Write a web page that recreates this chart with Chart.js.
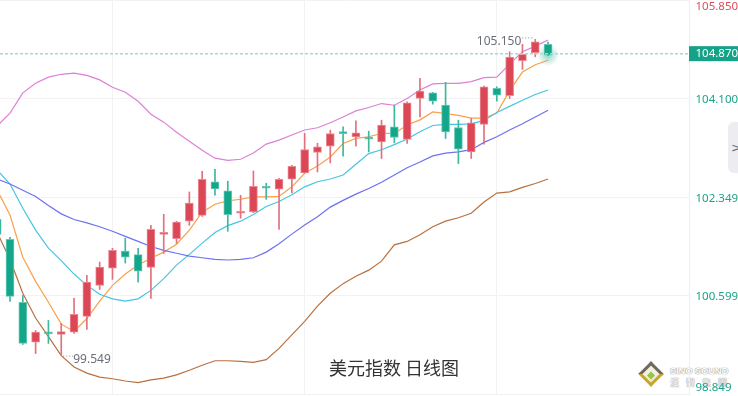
<!DOCTYPE html>
<html lang="zh">
<head>
    <meta charset="UTF-8">
    <title>美元指数 日线图</title>
    <script src="https://cdn.jsdelivr.net/npm/chart.js"></script>
    <style>
        body {
            margin: 0;
            background-color: #ffffff;
        }
        #wrap {
            position: relative;
            width: 738px;
            height: 396px;
            overflow: hidden;
        }
        #dxyChart {
            position: relative;
            z-index: 2;
        }
        .title {
            position: absolute;
            z-index: 3;
            left: 329px;
            top: 354px;
            font-family: "Noto Sans CJK SC", sans-serif;
            font-size: 18px;
            color: #333333;
            white-space: nowrap;
        }
        .side-btn {
            position: absolute;
            z-index: 3;
            left: 728px;
            top: 122px;
            width: 16px;
            height: 51px;
            border-radius: 6px 0 0 6px;
            background: #ededf1;
            color: #666a74;
            font-family: "DejaVu Sans", sans-serif;
            font-size: 13px;
            line-height: 51px;
            padding-left: 3px;
            box-sizing: border-box;
        }
        .logo {
            position: absolute;
            z-index: 1;
            left: 638px;
            top: 361px;
        }
        .logo .mark {
            position: absolute;
            left: 4px;
            top: 4px;
            width: 18px;
            height: 18px;
            transform: rotate(45deg);
            border: 3px solid #6f6a5c;
            border-bottom-color: #c9a530;
            border-right-color: #c9a530;
            background: #f4f1e4;
            box-sizing: border-box;
        }
        .logo .mark::after {
            content: "";
            position: absolute;
            left: 3px;
            top: 3px;
            width: 6px;
            height: 6px;
            border: 1px solid #ffffff;
            background: #9cc44a;
        }
        .logo .name {
            position: absolute;
            left: 32px;
            top: 4px;
            font-family: "Liberation Sans", sans-serif;
            font-weight: bold;
            font-size: 9.5px;
            letter-spacing: -0.2px;
            color: #ffffff;
            text-shadow: 0 0 1px #8a8a8a, 0 0 1px #8a8a8a;
            white-space: nowrap;
        }
        .logo .cn {
            position: absolute;
            left: 32px;
            top: 15px;
            font-family: "Noto Sans CJK TC", sans-serif;
            font-size: 9px;
            letter-spacing: 7px;
            color: #ffffff;
            text-shadow: 0 0 1px #8a8a8a, 0 0 1px #8a8a8a;
            white-space: nowrap;
        }
    </style>
</head>
<body>
    <div id="wrap">
        <div class="logo">
            <div class="mark"></div>
            <div class="name">SINO SOUND</div>
            <div class="cn">漢聲集團</div>
        </div>
        <canvas id="dxyChart" width="738" height="396"></canvas>
        <div class="title">美元指数 日线图</div>
        <div class="side-btn">&gt;</div>
    </div>

    <script>
        // daily bars, index -1 is the partly hidden one at the left edge
        const days = [-1, 0, 1, 2, 3, 4, 5, 6, 7, 8, 9, 10, 11, 12, 13, 14, 15, 16, 17, 18, 19, 20,
            21, 22, 23, 24, 25, 26, 27, 28, 29, 30, 31, 32, 33, 34, 35, 36, 37, 38, 39, 40, 41, 42];

        const open = [101.953, 101.597, 100.476, 99.770, 99.942, 99.907, 99.948, 100.227, 100.779, 101.087,
            101.389, 101.325, 101.099, 101.686, 101.610, 101.918, 102.024, 102.617, 102.457, 102.060,
            102.083, 102.531, 102.487, 102.665, 102.777, 103.140, 103.252, 103.501, 103.418, 103.403,
            103.329, 103.596, 103.371, 104.101, 104.200, 103.982, 103.585, 103.151, 103.638, 104.279,
            104.151, 104.770, 104.912, 105.062];
        const high = [102.024, 101.633, 100.601, 99.978, 100.156, 100.103, 100.547, 100.957, 101.193, 101.437,
            101.615, 101.437, 101.846, 102.042, 101.918, 102.439, 102.807, 102.843, 102.629, 102.380,
            102.813, 102.594, 102.680, 102.914, 103.483, 103.305, 103.537, 103.596, 103.702, 103.519,
            103.715, 103.982, 104.040, 104.457, 104.210, 104.386, 103.715, 103.745, 104.320, 104.307,
            104.930, 105.062, 105.150, 105.103];
        const low = [101.579, 100.494, 99.729, 99.569, 99.747, 99.549, 99.925, 99.996, 100.708, 100.885,
            101.176, 100.837, 100.547, 101.348, 101.526, 101.846, 102.006, 102.380, 101.740, 101.971,
            102.070, 102.309, 101.775, 102.421, 102.772, 102.795, 102.955, 103.074, 103.252, 103.151,
            103.033, 103.311, 103.300, 103.773, 103.999, 103.389, 102.944, 103.033, 103.288, 104.053,
            104.101, 104.617, 104.841, 104.862];
        const close = [101.686, 100.583, 99.747, 99.948, 99.916, 99.960, 100.263, 100.837, 101.104, 101.401,
            101.282, 101.033, 101.775, 101.713, 101.905, 102.243, 102.665, 102.492, 102.037, 102.087,
            102.540, 102.505, 102.665, 102.896, 103.193, 103.240, 103.478, 103.475, 103.489, 103.377,
            103.626, 103.407, 104.023, 104.231, 104.053, 103.507, 103.199, 103.667, 104.307, 104.160,
            104.836, 104.884, 105.108, 104.870];

        // bollinger bands + moving averages
        const upperBand = [103.61, 103.84, 104.20, 104.37, 104.48, 104.53, 104.55, 104.51, 104.43, 104.30,
            104.21, 104.05, 103.82, 103.68, 103.50, 103.34, 103.18, 103.04, 103.00, 103.02,
            103.13, 103.29, 103.36, 103.45, 103.54, 103.58, 103.67, 103.77, 103.88, 103.94,
            104.01, 103.98, 104.10, 104.25, 104.36, 104.37, 104.37, 104.40, 104.47, 104.48,
            104.71, 104.93, 105.03, 105.14];
        const midBand = [102.67, 102.58, 102.47, 102.36, 102.20, 102.05, 101.95, 101.89, 101.82, 101.74,
            101.65, 101.56, 101.47, 101.40, 101.35, 101.30, 101.27, 101.24, 101.23, 101.24,
            101.27, 101.37, 101.52, 101.69, 101.85, 102.00, 102.17, 102.29, 102.40, 102.50,
            102.61, 102.74, 102.87, 102.97, 103.08, 103.13, 103.15, 103.19, 103.32, 103.42,
            103.54, 103.65, 103.77, 103.89];
        const lowerBand = [101.72, 101.24, 100.64, 100.20, 99.87, 99.53, 99.33, 99.22, 99.15, 99.12,
            99.08, 99.05, 99.10, 99.13, 99.19, 99.27, 99.36, 99.44, 99.44, 99.43,
            99.41, 99.46, 99.66, 99.90, 100.14, 100.41, 100.64, 100.81, 100.94, 101.05,
            101.21, 101.50, 101.56, 101.68, 101.82, 101.92, 101.98, 102.06, 102.26, 102.42,
            102.44, 102.52, 102.59, 102.67];
        const ma10 = [102.83, 102.58, 102.15, 101.76, 101.44, 101.22, 100.98, 100.78, 100.62, 100.54,
            100.50, 100.54, 100.69, 100.90, 101.14, 101.33, 101.53, 101.72, 101.84, 101.92,
            102.04, 102.18, 102.27, 102.39, 102.53, 102.62, 102.67, 102.74, 102.93, 103.12,
            103.19, 103.28, 103.38, 103.51, 103.62, 103.64, 103.64, 103.65, 103.71, 103.85,
            103.96, 104.07, 104.17, 104.25];
        const ma5 = [102.47, 102.03, 101.28, 100.85, 100.48, 100.09, 99.96, 100.19, 100.50, 100.78,
            100.98, 101.14, 101.26, 101.37, 101.51, 101.76, 102.08, 102.22, 102.28, 102.31,
            102.35, 102.35, 102.36, 102.53, 102.77, 102.90, 103.06, 103.30, 103.39, 103.42,
            103.48, 103.48, 103.63, 103.72, 103.86, 103.83, 103.80, 103.75, 103.75, 103.84,
            104.24, 104.57, 104.70, 104.78];

        const yTicks = [98.849, 100.599, 102.349, 104.100, 105.850];
        const xGridDays = [8, 23, 38];
        const lastPrice = 104.870;
        const peakDay = 41, peakValue = 105.150;
        const troughDay = 4, troughValue = 99.549;

        const RED = '#dc4756', GREEN = '#12a68a';
        const isUp = (i) => close[i] >= open[i];

        const lineSet = (data, color) => ({
            type: 'line',
            data: days.map((d, i) => ({ x: d, y: data[i] })),
            borderColor: color,
            borderWidth: 1.2,
            pointRadius: 0,
            tension: 0,
            order: 3
        });

        const overlay = {
            id: 'overlay',
            beforeDatasetsDraw(chart) {
                const { ctx } = chart;
                const xs = chart.scales.x, ys = chart.scales.y;
                // soft glow under the last candle
                const gx = xs.getPixelForValue(days[days.length - 1]);
                const gy = ys.getPixelForValue(lastPrice);
                const g = ctx.createRadialGradient(gx, gy, 0, gx, gy, 11);
                g.addColorStop(0, 'rgba(18,166,138,0.45)');
                g.addColorStop(1, 'rgba(18,166,138,0)');
                ctx.save();
                ctx.fillStyle = g;
                ctx.beginPath();
                ctx.arc(gx, gy, 11, 0, Math.PI * 2);
                ctx.fill();
                ctx.restore();
            },
            afterDatasetsDraw(chart) {
                const { ctx, chartArea } = chart;
                const xs = chart.scales.x, ys = chart.scales.y;
                ctx.save();

                // current price dashed line
                const py = ys.getPixelForValue(lastPrice) - 1.5;
                ctx.strokeStyle = '#a2dbd0';
                ctx.lineWidth = 1.5;
                ctx.setLineDash([3, 2]);
                ctx.beginPath();
                ctx.moveTo(chartArea.left, py);
                ctx.lineTo(chartArea.right, py);
                ctx.stroke();
                ctx.setLineDash([]);

                // axis labels on the right
                ctx.font = '11.5px "Noto Sans", sans-serif';
                ctx.textAlign = 'left';
                ctx.textBaseline = 'middle';
                yTicks.forEach((v, i) => {
                    let y = ys.getPixelForValue(v);
                    if (i === yTicks.length - 1) y += 7;
                    else if (i === 0) y -= 6;
                    else y += 1.5;
                    ctx.fillStyle = v > lastPrice ? '#de4f5b' : '#1aa48a';
                    ctx.fillText(v.toFixed(3), chartArea.right + 6.5, y);
                });

                // price tag
                ctx.fillStyle = '#14a288';
                ctx.fillRect(chartArea.right, py - 7.5, chart.width - chartArea.right, 15);
                ctx.fillStyle = '#ffffff';
                ctx.fillText(lastPrice.toFixed(3), chartArea.right + 6.5, py + 0.5);

                // high / low markers
                ctx.fillStyle = '#6b6e78';
                ctx.strokeStyle = '#8a8d96';
                ctx.lineWidth = 1;
                ctx.setLineDash([1, 2]);
                const hx = xs.getPixelForValue(peakDay), hy = ys.getPixelForValue(peakValue);
                ctx.beginPath();
                ctx.moveTo(hx - 3, hy - 1.5);
                ctx.lineTo(hx - 13, hy - 1.5);
                ctx.stroke();
                const lx = xs.getPixelForValue(troughDay), ly = ys.getPixelForValue(troughValue);
                ctx.beginPath();
                ctx.moveTo(lx + 2, ly + 1.5);
                ctx.lineTo(lx + 12, ly + 1.5);
                ctx.stroke();
                ctx.setLineDash([]);
                ctx.font = '12px "Noto Sans", sans-serif';
                ctx.textAlign = 'right';
                ctx.fillText(peakValue.toFixed(3), hx - 14, hy + 2);
                ctx.textAlign = 'left';
                ctx.fillText(troughValue.toFixed(3), lx + 12, ly + 5);

                ctx.restore();
            }
        };

        new Chart(document.getElementById('dxyChart').getContext('2d'), {
            type: 'bar',
            data: {
                datasets: [
                    {
                        // candle bodies
                        data: days.map((d, i) => ({ x: d, y: [open[i], close[i]] })),
                        backgroundColor: days.map((d, i) => isUp(i) ? RED : GREEN),
                        borderColor: days.map((d, i) => isUp(i) ? '#ea8a94' : '#66c7b3'),
                        borderWidth: 1,
                        borderSkipped: false,
                        barThickness: 8,
                        minBarLength: 2,
                        grouped: false,
                        order: 0
                    },
                    {
                        // wicks
                        data: days.map((d, i) => ({ x: d, y: [low[i], high[i]] })),
                        backgroundColor: days.map((d, i) => isUp(i) ? '#e2707d' : '#3fb69f'),
                        barThickness: 1,
                        grouped: false,
                        order: 1
                    },
                    lineSet(upperBand, '#dd80d6'),
                    lineSet(lowerBand, '#b8703f'),
                    lineSet(midBand, '#6d72f1'),
                    lineSet(ma10, '#45c5e2'),
                    lineSet(ma5, '#f8a04c')
                ]
            },
            options: {
                responsive: false,
                animation: false,
                layout: { padding: { bottom: 2 } },
                plugins: {
                    legend: { display: false },
                    tooltip: { enabled: false }
                },
                scales: {
                    x: {
                        type: 'linear',
                        offset: false,
                        min: -0.78,
                        max: 53.0,
                        ticks: { display: false },
                        grid: { color: '#f2f2f5', drawTicks: false, offset: false },
                        border: { display: false },
                        afterBuildTicks: (scale) => { scale.ticks = xGridDays.map(v => ({ value: v })); },
                        afterFit: (scale) => { scale.height = 0; }
                    },
                    y: {
                        position: 'right',
                        min: yTicks[0],
                        max: yTicks[yTicks.length - 1],
                        ticks: { display: false },
                        grid: { color: '#f2f2f5', drawTicks: false },
                        border: { display: true, color: '#eeeef2' },
                        afterBuildTicks: (scale) => { scale.ticks = yTicks.map(v => ({ value: v })); },
                        afterFit: (scale) => { scale.width = 49; }
                    }
                }
            },
            plugins: [overlay]
        });
    </script>
</body>
</html>
